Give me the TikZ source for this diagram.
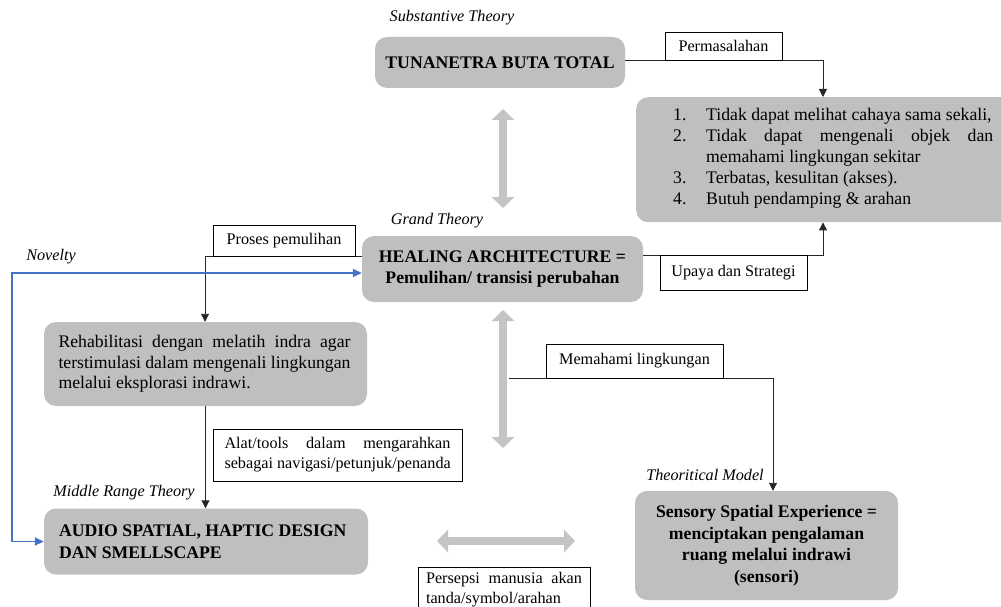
\documentclass[tikz,border=0pt]{standalone}
\usepackage{fontspec}
\setmainfont{Liberation Serif}
\usetikzlibrary{arrows.meta,calc}
\definecolor{boxgray}{RGB}{191,191,191}
\definecolor{arrowgray}{RGB}{196,196,196}
\definecolor{novblue}{RGB}{68,114,196}
\newcommand\mainsz{\fontsize{17.7}{20.5}\selectfont}
\newcommand\listsz{\fontsize{17.7}{21}\selectfont}
\newcommand\labsz{\fontsize{16.2}{20}\selectfont}
\newcommand\boldsz{\fontsize{17.7}{21.5}\selectfont\bfseries}
\newcommand\natsp{\spaceskip=0pt\xspaceskip=0pt\relax}
\begin{document}
\begin{tikzpicture}[x=1pt,y=-1pt,
 graybox/.style={fill=boxgray, rounded corners=12pt, draw=none, inner sep=0pt, align=center},
 labbox/.style={draw=black, line width=0.7pt, fill=white, inner sep=0pt, font=\labsz, align=center},
 theory/.style={font=\labsz\itshape, inner sep=0pt},
 conn/.style={draw=black!85, line width=0.9pt, -{Triangle[length=8pt,width=8pt]}},
 blueconn/.style={draw=novblue, line width=1.6pt, {Triangle[length=9pt,width=8pt]}-{Triangle[length=9pt,width=8pt]}},
 garrow/.style={draw=arrowgray, line width=8pt, {Triangle[length=11pt,width=22pt]}-{Triangle[length=11pt,width=22pt]}},
]
\useasboundingbox (0,0) rectangle (1001,607);

% main gray boxes
\node[graybox, minimum width=250pt, minimum height=51pt, font=\boldsz] (tun) at (500,62.5) {TUNANETRA BUTA TOTAL};
\node[graybox, minimum width=380pt, minimum height=125pt, anchor=north west] (prob) at (636,97) {};
\node[anchor=north west, inner sep=0pt, text width=330pt, font=\listsz, align=left] (probtxt) at (673,108) {\natsp
\makebox[33pt][l]{1.}Tidak dapat melihat cahaya sama sekali,\\
\makebox[33pt][l]{2.}\makebox[287pt][s]{Tidak dapat mengenali objek dan}\\
\hspace*{33pt}memahami lingkungan sekitar\\
\makebox[33pt][l]{3.}Terbatas, kesulitan (akses).\\
\makebox[33pt][l]{4.}Butuh pendamping \& arahan};
\node[graybox, minimum width=281pt, minimum height=66pt, font=\boldsz] (heal) at (502.5,269) {\natsp HEALING ARCHITECTURE =\\ Pemulihan/ transisi perubahan};
\node[graybox, minimum width=323pt, minimum height=84pt, text width=294pt, align=left, font=\mainsz] (rehab) at (205.5,364) {\natsp
\makebox[292pt][s]{Rehabilitasi dengan melatih indra agar}\\
\makebox[292pt][s]{terstimulasi dalam mengenali lingkungan}\\
melalui eksplorasi indrawi.};
\node[graybox, minimum width=324pt, minimum height=66pt, text width=294pt, align=left, font=\boldsz] (audio) at (206,541.5) {\natsp AUDIO SPATIAL, HAPTIC DESIGN\\ DAN SMELLSCAPE};
\node[graybox, minimum width=263pt, minimum height=109pt, font=\boldsz] (sens) at (766.5,545.5) {\natsp Sensory Spatial Experience =\\ menciptakan pengalaman\\ ruang melalui indrawi\\ (sensori)};

% theory labels
\node[theory] (lsub) at (452,18) {Substantive Theory};
\node[theory] (lgrand) at (437,221) {Grand Theory};
\node[theory] (lnov) at (51,257) {Novelty};
\node[theory] (lmid) at (124,493) {Middle Range Theory};
\node[theory] (lmodel) at (705,475) {Theoritical Model};

% connectors
\coordinate (c1) at (823,60);
\draw[conn] (tun.east |- c1) -- (c1) -- (c1 |- prob.north);
\coordinate (c2) at (823,255);
\draw[conn] (heal.east |- c2) -- (c2) -- (c2 |- prob.south);
\coordinate (c3) at (205,256);
\draw[conn] (heal.west |- c3) -- (c3) -- (c3 |- rehab.north);
\draw[conn] (rehab.south) -- (rehab.south |- audio.north);
\coordinate (nv) at (12,273);
\draw[blueconn] (heal.west |- nv) -- (nv) |- (audio.west);
\coordinate (m0) at (509,378);
\coordinate (m1) at (773,378);
\draw[conn] (m0) -- (m1) -- (m1 |- sens.north);

% gray double arrows
\draw[garrow] (503,109) -- (503,208);
\draw[garrow] (503,310) -- (503,448);
\draw[garrow] (437,541) -- (575,541);

% label boxes
\node[labbox, minimum width=117pt, minimum height=28pt] (perm) at (723.5,46) {Permasalahan};
\node[labbox, minimum width=142pt, minimum height=31pt] (proses) at (284,240.5) {Proses pemulihan};
\node[labbox, minimum width=147pt, minimum height=35pt] (upaya) at (733.5,272.5) {Upaya dan Strategi};
\node[labbox, minimum width=177pt, minimum height=34pt] (mem) at (634.5,361) {Memahami lingkungan};
\node[labbox, minimum width=249pt, minimum height=52pt, text width=226pt, align=left] (alat) at (337.5,455) {\natsp
\makebox[226pt][s]{Alat/tools dalam mengarahkan}\\ \mbox{sebagai navigasi/petunjuk/penanda}};
\node[labbox, anchor=north, text width=156pt, align=left, inner xsep=8pt, inner ysep=5pt] (pers) at (504,567) {\natsp
\makebox[156pt][s]{Persepsi manusia akan}\\ tanda/symbol/arahan};
\end{tikzpicture}
\end{document}
